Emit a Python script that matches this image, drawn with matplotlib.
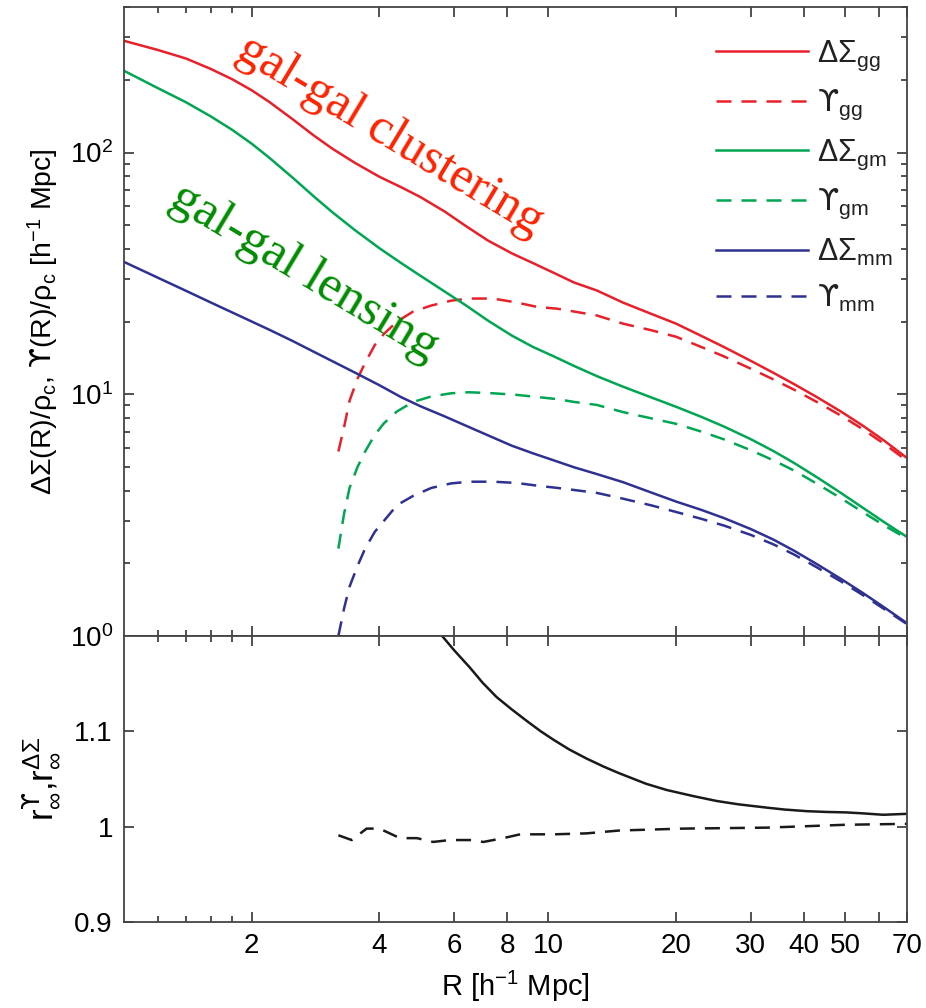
import numpy as np
import matplotlib
matplotlib.use("Agg")
import matplotlib.pyplot as plt
from matplotlib.ticker import FixedLocator, FixedFormatter, LogLocator, NullFormatter

# projected profiles, in units of rho_c * h^-1 Mpc
r_solid = [1.0, 1.2, 1.4, 1.6, 1.8, 2.0, 2.2, 2.5, 2.8, 3.1, 3.5, 4.0, 4.5, 5.0,
           5.7, 6.4, 7.2, 8.2, 9.2, 10.3, 11.5, 13.0, 15.0, 17.5, 20, 23, 26,
           30, 34, 38, 43, 49, 55, 62, 70]
dsig_gg = [290, 266, 245, 222, 201, 181, 162, 137.2, 117.7, 103.7, 90.7, 79.4, 71.9, 65.4,
           57.0, 49.6, 43.3, 38.3, 34.9, 31.8, 29, 26.9, 23.95, 21.5, 19.6, 17.4, 15.65,
           13.75, 12.24, 11.0, 9.72, 8.47, 7.43, 6.41, 5.45]
dsig_gm = [218, 185, 161.5, 141.3, 124.1, 108.8, 95.2, 78.6, 65.9, 56.6, 47.8, 40.2, 34.9, 30.9,
           26.6, 23.3, 20.2, 17.5, 15.7, 14.35, 13.1, 11.9, 10.75, 9.7, 8.88, 8.05, 7.34,
           6.52, 5.81, 5.19, 4.53, 3.90, 3.40, 2.95, 2.57]
dsig_mm = [35.3, 30.4, 26.8, 24.0, 21.8, 20.0, 18.5, 16.6, 15.0, 13.7, 12.3, 10.9, 9.73, 8.92,
           8.10, 7.41, 6.77, 6.13, 5.7, 5.33, 4.99, 4.68, 4.33, 3.92, 3.6, 3.32, 3.07,
           2.77, 2.5, 2.25, 1.98, 1.72, 1.51, 1.31, 1.13]

r_ups = [3.2, 3.3, 3.4, 3.55, 3.7, 3.9, 4.1, 4.4, 4.8, 5.3, 5.9, 6.5, 7.4, 8.4,
         9.4, 10.5, 11.5, 13.0, 15.0, 17.5, 20, 23, 26, 30, 34, 38, 43, 49, 55, 62, 70]
ups_gg = [5.8, 7.3, 9.4, 11.6, 13.5, 16.0, 17.8, 20.0, 22.0, 23.3, 24.4, 24.9, 24.9, 24.0,
          23.0, 22.6, 22.0, 21.2, 19.6, 18.4, 17.3, 15.66, 14.32, 12.76, 11.5, 10.43, 9.28,
          8.15, 7.18, 6.22, 5.31]
ups_gm = [2.3, 3.2, 4.1, 5.0, 5.8, 6.8, 7.6, 8.5, 9.3, 9.8, 10.1, 10.2, 10.1, 9.95,
          9.75, 9.55, 9.3, 9.04, 8.44, 7.95, 7.55, 7.0, 6.5, 5.87, 5.32, 4.83, 4.26,
          3.71, 3.26, 2.86, 2.53]
ups_mm = [1.0, 1.3, 1.6, 1.95, 2.3, 2.7, 3.0, 3.48, 3.8, 4.1, 4.28, 4.35, 4.35, 4.3,
          4.19, 4.1, 4.02, 3.91, 3.70, 3.47, 3.26, 3.05, 2.86, 2.62, 2.39, 2.17, 1.92,
          1.68, 1.48, 1.29, 1.12]

# cross-correlation coefficients
r_rdsig = [5.5, 6.0, 6.53, 7.0, 7.55, 8.2, 8.89, 9.6, 10.3, 11.2, 12.3, 13.5, 14.7,
           17, 19, 22, 24.9, 28, 32.7, 36, 40.6, 45, 50.2, 55, 61.5, 70]
rc_dsig = [1.205, 1.185, 1.167, 1.151, 1.136, 1.123, 1.111, 1.100, 1.091, 1.081, 1.0715,
           1.063, 1.056, 1.045, 1.0385, 1.032, 1.027, 1.0235, 1.020, 1.018, 1.0163,
           1.0155, 1.015, 1.014, 1.0125, 1.0135]
r_rups = [3.2, 3.44, 3.73, 4.0, 4.47, 4.9, 5.35, 5.86, 6.53, 7.03, 7.83, 8.58,
          10.3, 12.3, 14.7, 20.8, 32.7, 50, 70]
rc_ups = [0.991, 0.986, 0.998, 0.998, 0.988, 0.988, 0.984, 0.986, 0.986, 0.984,
          0.988, 0.992, 0.992, 0.993, 0.996, 0.998, 0.999, 1.002, 1.003]

xticks = [2, 4, 6, 8, 10, 20, 30, 40, 50, 60, 70]
xticklabels = ['2', '4', '6', '8', '10', '20', '30', '40', '50', '', '70']

red, green, blue = '#e8202a', '#00a651', '#2e3192'

plt.rcParams['font.family'] = ['Liberation Sans', 'DejaVu Sans']
plt.rcParams['mathtext.fontset'] = 'custom'
plt.rcParams['mathtext.rm'] = 'Liberation Sans'
plt.rcParams['mathtext.it'] = 'Liberation Sans'
plt.rcParams['mathtext.sf'] = 'DejaVu Sans'
plt.rcParams['mathtext.fallback'] = 'stixsans'

UPS = '$\\mathsf{ϒ}$'

fig = plt.figure(figsize=(9.26, 10.08), dpi=100)
ax1 = fig.add_axes([0.1339, 0.369, 0.8456, 0.624])
ax2 = fig.add_axes([0.1339, 0.0853, 0.8456, 0.2837])

lw = 1.8
dash = (6, 4)
ax1.plot(r_solid, dsig_gg, color=red, lw=lw, label='ΔΣ$_{\\mathrm{gg}}$')
ax1.plot(r_ups, ups_gg, color=red, lw=lw, dashes=dash, label='$\\mathsf{ϒ}_{\\mathrm{gg}}$')
ax1.plot(r_solid, dsig_gm, color=green, lw=lw, label='ΔΣ$_{\\mathrm{gm}}$')
ax1.plot(r_ups, ups_gm, color=green, lw=lw, dashes=dash, label='$\\mathsf{ϒ}_{\\mathrm{gm}}$')
ax1.plot(r_solid, dsig_mm, color=blue, lw=lw, label='ΔΣ$_{\\mathrm{mm}}$')
ax1.plot(r_ups, ups_mm, color=blue, lw=lw, dashes=dash, label='$\\mathsf{ϒ}_{\\mathrm{mm}}$')

ax2.plot(r_rdsig, rc_dsig, color='#1a1a1a', lw=lw)
ax2.plot(r_rups, rc_ups, color='#1a1a1a', lw=lw, dashes=dash)

for ax in (ax1, ax2):
    ax.set_xscale('log')
    ax.set_xlim(1, 70)
    ax.xaxis.set_major_locator(FixedLocator(xticks))
    ax.xaxis.set_major_formatter(FixedFormatter(xticklabels))
    ax.xaxis.set_minor_locator(FixedLocator([1.2, 1.4, 1.6, 1.8]))
    ax.xaxis.set_minor_formatter(NullFormatter())
    ax.tick_params(which='both', direction='in', top=True, right=True,
                   width=1.2, color='#333333', labelsize=20, pad=8)
    ax.tick_params(which='major', length=7)
    ax.tick_params(which='minor', length=4)
    for s in ax.spines.values():
        s.set_linewidth(1.3)
        s.set_color('#444444')

ax1.set_yscale('log')
ax1.set_ylim(1, 400)
ax1.yaxis.set_major_locator(LogLocator(base=10))
ax1.yaxis.set_minor_locator(LogLocator(base=10, subs=np.arange(2, 10)))
ax1.yaxis.set_minor_formatter(NullFormatter())
ax1.tick_params(labelbottom=False)
ax1.set_ylabel('ΔΣ(R)/ρ$_\\mathrm{c}$, ' + UPS + '(R)/ρ$_\\mathrm{c}$ [h$^{-1}$ Mpc]',
               fontsize=20.5)
ax1.yaxis.set_label_coords(-0.08, 0.5)

ax2.set_ylim(0.9, 1.2)
ax2.yaxis.set_major_locator(FixedLocator([0.9, 1.0, 1.1]))
ax2.yaxis.set_major_formatter(FixedFormatter(['0.9', '1', '1.1']))
ax2.set_xlabel('R [h$^{-1}$ Mpc]', fontsize=21)
ax2.xaxis.set_label_coords(0.5, -0.165)
ax2.set_ylabel('r$^{\\mathsf{ϒ}}_{\\infty}$,r$^{\\mathrm{ΔΣ}}_{\\infty}$', fontsize=25)
ax2.yaxis.set_label_coords(-0.08, 0.5)

leg = ax1.legend(loc='upper right', bbox_to_anchor=(0.997, 0.969), frameon=False,
                 fontsize=22, handlelength=3.0, handletextpad=0.3, labelspacing=0.5,
                 borderaxespad=0)
for t in leg.get_texts():
    t.set_color('#222222')

ax1.text(0.34, 0.795, 'gal-gal clustering', transform=ax1.transAxes,
         family='Liberation Serif', fontsize=36, color='#ff2200',
         rotation=-31, ha='center', va='center', rotation_mode='anchor')
ax1.text(0.23, 0.578, 'gal-gal lensing', transform=ax1.transAxes,
         family='Liberation Serif', fontsize=37, color='#008c00',
         rotation=-31, ha='center', va='center', rotation_mode='anchor')

fig.savefig('out.png', dpi=100)
